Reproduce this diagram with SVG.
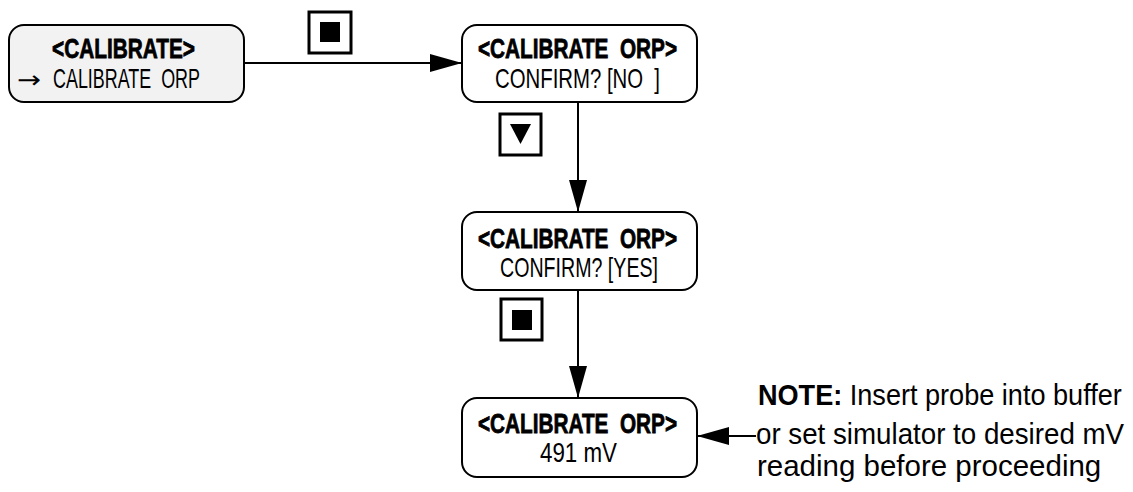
<svg xmlns="http://www.w3.org/2000/svg" width="1133" height="492" viewBox="0 0 1133 492">
<style>
.box{fill:#fff;stroke:#000;stroke-width:2}
.gray{fill:#f2f2f2}
.t{font-family:"Liberation Sans",Arial,sans-serif;fill:#000;white-space:pre}
.b{font-weight:bold}
.hv{stroke:#000;stroke-width:0.8}
.ln{stroke:#000;stroke-width:2;fill:none}
.btn{fill:#fff;stroke:#000;stroke-width:3}
</style>
<defs>
<marker id="ah" markerWidth="32" markerHeight="18" refX="32" refY="9" orient="auto" markerUnits="userSpaceOnUse">
<path d="M0,0 L32,9 L0,18 Z" fill="#000"/>
</marker>
</defs>
<g id="connectors">
<line class="ln" x1="245" y1="63" x2="462" y2="63" marker-end="url(#ah)"/>
<line class="ln" x1="578" y1="102" x2="578" y2="212" marker-end="url(#ah)"/>
<line class="ln" x1="578" y1="290" x2="578" y2="398" marker-end="url(#ah)"/>
<line class="ln" x1="756" y1="436" x2="697" y2="436" marker-end="url(#ah)"/>
</g>
<g id="btn1">
<rect class="btn" x="309" y="12" width="42" height="41"/>
<rect x="320" y="22" width="20" height="20" fill="#000"/>
</g>
<g id="btn2">
<rect class="btn" x="500" y="114" width="41" height="41"/>
<path d="M510,124 L531,124 L520.5,144 Z" fill="#000"/>
</g>
<g id="btn3">
<rect class="btn" x="501" y="299" width="41" height="41"/>
<rect x="512" y="310" width="20" height="20" fill="#000"/>
</g>
<g id="box1">
<rect class="box gray" x="9" y="25" width="235" height="77" rx="15"/>
<text class="t b hv" x="52" y="58" font-size="28" textLength="143" lengthAdjust="spacingAndGlyphs">&lt;CALIBRATE&gt;</text>
<text x="17" y="88" font-size="24" font-family="DejaVu Sans, sans-serif" textLength="24" lengthAdjust="spacingAndGlyphs">→</text>
<text class="t" x="53" y="88" font-size="28" textLength="147" lengthAdjust="spacingAndGlyphs">CALIBRATE  ORP</text>
</g>
<g id="box2">
<rect class="box" x="462" y="25" width="235" height="77" rx="15"/>
<text class="t b hv" x="478" y="58" font-size="28" textLength="199" lengthAdjust="spacingAndGlyphs">&lt;CALIBRATE  ORP&gt;</text>
<text class="t" x="495" y="88" font-size="28" textLength="165" lengthAdjust="spacingAndGlyphs">CONFIRM? [NO  ]</text>
</g>
<g id="box3">
<rect class="box" x="462" y="212" width="235" height="78" rx="15"/>
<text class="t b hv" x="478" y="248" font-size="28" textLength="199" lengthAdjust="spacingAndGlyphs">&lt;CALIBRATE  ORP&gt;</text>
<text class="t" x="500" y="277" font-size="28" textLength="158" lengthAdjust="spacingAndGlyphs">CONFIRM? [YES]</text>
</g>
<g id="box4">
<rect class="box" x="462" y="398" width="235" height="79" rx="15"/>
<text class="t b hv" x="478" y="433" font-size="28" textLength="199" lengthAdjust="spacingAndGlyphs">&lt;CALIBRATE  ORP&gt;</text>
<text class="t" x="540" y="462" font-size="28" textLength="77" lengthAdjust="spacingAndGlyphs">491 mV</text>
</g>
<g id="note">
<text class="t" transform="translate(758,405) scale(0.85,1)" font-size="29" textLength="428" lengthAdjust="spacingAndGlyphs"><tspan class="b">NOTE:</tspan> Insert probe into buffer</text>
<text class="t" transform="translate(756,444) scale(0.85,1)" font-size="29" textLength="433" lengthAdjust="spacingAndGlyphs">or set simulator to desired mV</text>
<text class="t" transform="translate(757,476) scale(0.85,1)" font-size="29" textLength="405" lengthAdjust="spacingAndGlyphs">reading before proceeding</text>
</g>
</svg>
